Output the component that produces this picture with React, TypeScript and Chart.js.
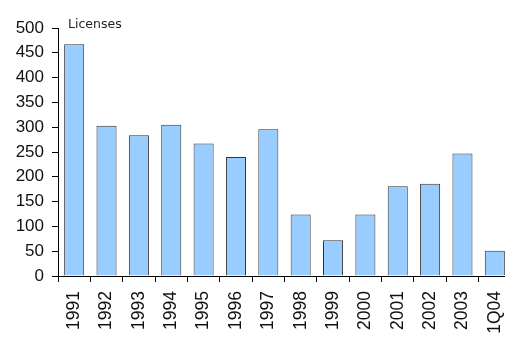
import React, { useEffect, useRef } from "react";
import { Chart, registerables } from "chart.js";

Chart.register(...registerables);

const categories = ["1991", "1992", "1993", "1994", "1995", "1996", "1997", "1998", "1999", "2000", "2001", "2002", "2003", "1Q04"];
const licenses = [467, 303, 284, 305, 267, 240, 296, 124, 72, 124, 181, 186, 247, 51];
const yTicks = [0, 50, 100, 150, 200, 250, 300, 350, 400, 450, 500];
const unitLabel = "Licenses";

const labelPlugin = {
  id: "unitLabel",
  afterDraw(chart: any) {
    const ctx = chart.ctx;
    const area = chart.chartArea;
    ctx.save();
    ctx.font = "12.5px 'DejaVu Sans', sans-serif";
    ctx.fillStyle = "#222";
    ctx.textBaseline = "top";
    ctx.textAlign = "left";
    ctx.fillText(unitLabel, area.left + 10, area.top - 10);
    ctx.restore();
  },
};

export default function App() {
  const ref = useRef<HTMLCanvasElement>(null);
  useEffect(() => {
    if (!ref.current) return;
    const chart = new Chart(ref.current, {
      type: "bar",
      data: {
        labels: categories,
        datasets: [
          {
            data: licenses,
            backgroundColor: "#99CCFF",
            borderColor: "#333333",
            borderWidth: 1,
            categoryPercentage: 1,
            barPercentage: 0.62,
          },
        ],
      },
      options: {
        animation: false,
        responsive: false,
        layout: { padding: { top: 28, right: 0, left: 0, bottom: 0 } },
        plugins: { legend: { display: false }, tooltip: { enabled: false } },
        scales: {
          x: {
            grid: { drawOnChartArea: false, tickLength: 6, color: "#000", offset: true },
            border: { color: "#000", width: 1 },
            ticks: {
              minRotation: 90,
              maxRotation: 90,
              autoSkip: false,
              color: "#111",
              font: { family: "'Liberation Sans', Arial, sans-serif", size: 17.5 },
              padding: 9,
            },
            afterFit(scale: any) {
              scale.height = 62;
              scale.paddingLeft = 0;
              scale.paddingRight = 0;
            },
          },
          y: {
            min: 0,
            max: 500,
            afterBuildTicks(scale: any) {
              scale.ticks = yTicks.map((v) => ({ value: v }));
            },
            grid: { drawOnChartArea: false, tickLength: 6, color: "#000" },
            border: { color: "#000", width: 1 },
            ticks: {
              color: "#111",
              font: { family: "'Liberation Sans', Arial, sans-serif", size: 17 },
              padding: 8,
            },
            afterFit(scale: any) {
              scale.width = 58;
              scale.paddingTop = 0;
              scale.paddingBottom = 0;
            },
          },
        },
      },
      plugins: [labelPlugin],
    });
    return () => chart.destroy();
  }, []);
  return (
    <div style={{ position: "fixed", left: 0, top: 0, width: 505, height: 338, overflow: "hidden", background: "#fff" }}>
      <canvas ref={ref} width={511} height={338} style={{ display: "block" }} />
    </div>
  );
}
